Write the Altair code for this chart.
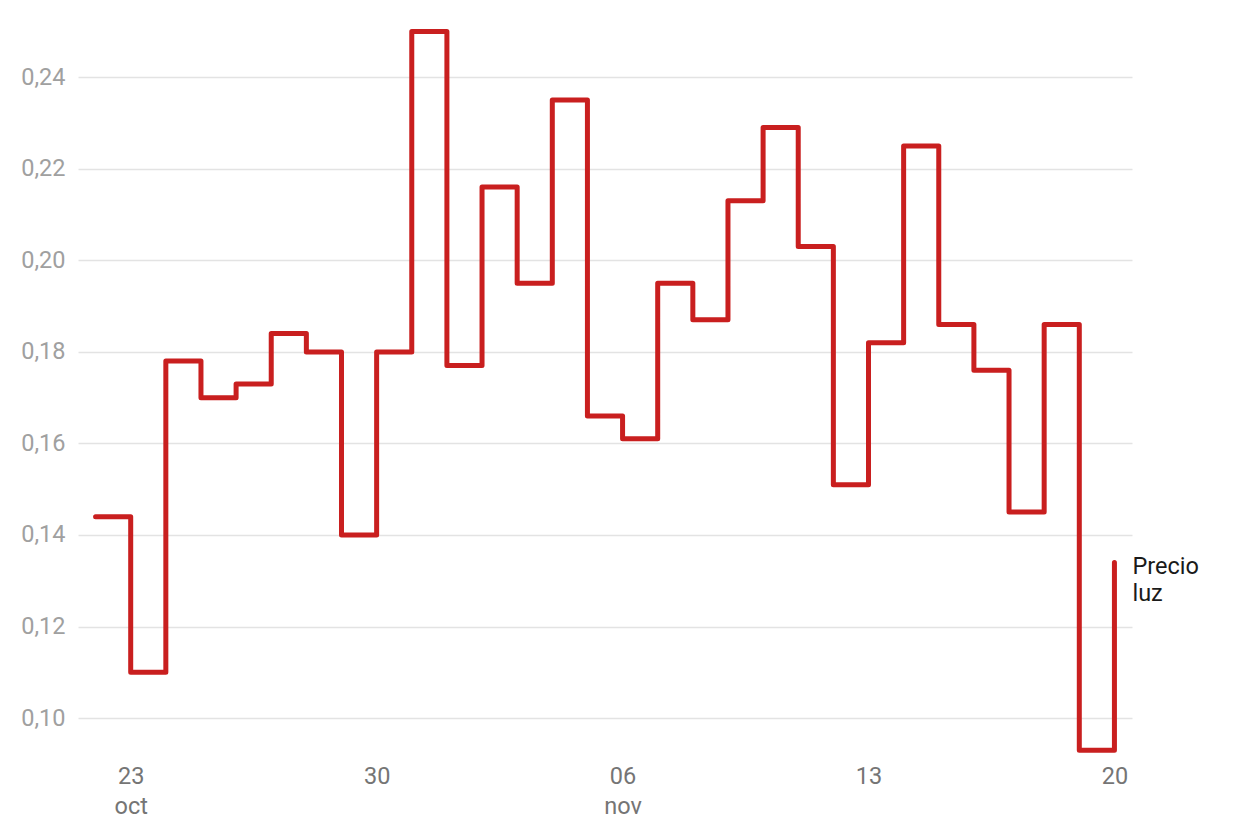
"""Precio de la luz: escalones diarios (oct-nov 2023)."""

import pandas as pd
import altair as alt

# Datos diarios
fechas = pd.date_range("2023-10-22", "2023-11-20", freq="D").strftime("%Y-%m-%d").tolist()
precios = [
    0.144, 0.110, 0.178, 0.170, 0.173, 0.184, 0.180, 0.140, 0.180, 0.250,
    0.177, 0.216, 0.195, 0.235, 0.166, 0.161, 0.195, 0.187, 0.213, 0.229,
    0.203, 0.151, 0.182, 0.225, 0.186, 0.176, 0.145, 0.186, 0.093, 0.134,
]

# Marcas del eje x
tick_fechas = ["2023-10-23", "2023-10-30", "2023-11-06", "2023-11-13", "2023-11-20"]
tick_dias = ["23", "30", "06", "13", "20"]
tick_meses = ["oct", "", "nov", "", ""]
y_ticks = [0.10, 0.12, 0.14, 0.16, 0.18, 0.20, 0.22, 0.24]
serie = "Precio\nluz"

df = pd.DataFrame({"fecha": fechas, "precio": precios})
etiqueta = pd.DataFrame({"fecha": [fechas[-1]], "precio": [precios[-1]], "texto": [serie]})

label_expr = ""
for f, d, m in zip(tick_fechas, tick_dias, tick_meses):
    lbl = f"['{d}', '{m}']" if m else f"'{d}'"
    label_expr += f"utcFormat(datum.value, '%Y-%m-%d') == '{f}' ? {lbl} : "
label_expr += "''"

FONT = "Roboto"
RED = "#c91f1f"
FS = 23.5

x_scale = alt.Scale(
    type="utc",
    domain=[alt.DateTime(year=2023, month=10, date=21, hours=12, utc=True),
            alt.DateTime(year=2023, month=11, date=20, hours=12, utc=True)],
)
x_enc = alt.X(
    "fecha:T", scale=x_scale, title=None,
    axis=alt.Axis(
        values=[alt.DateTime(year=int(f[:4]), month=int(f[5:7]), date=int(f[8:]), utc=True)
                for f in tick_fechas],
        labelExpr=label_expr, domain=False, ticks=False, grid=False,
        labelFont=FONT, labelFontSize=FS, labelColor="#757575",
        labelPadding=7, labelLineHeight=30, labelBaseline="top",
    ),
)
y_enc = alt.Y(
    "precio:Q", scale=alt.Scale(domain=[0.0915, 0.2525], nice=False, zero=False), title=None,
    axis=alt.Axis(
        values=y_ticks, labelExpr="replace(format(datum.value, '.2f'), '.', ',')",
        domain=False, ticks=False, gridColor="#e3e3e3", gridWidth=1.5,
        labelFont=FONT, labelFontSize=FS, labelColor="#a0a0a0", labelPadding=13,
    ),
)

linea = alt.Chart(df).mark_line(
    interpolate="step-after", color=RED, strokeWidth=5,
    strokeCap="round", strokeJoin="round",
).encode(x=x_enc, y=y_enc)

texto = alt.Chart(etiqueta).mark_text(
    align="left", baseline="alphabetic", dx=18, dy=12, lineBreak="\n",
    font=FONT, fontSize=FS, color="#1a1a1a", lineHeight=27,
).encode(x="fecha:T", y="precio:Q", text="texto:N")

chart = (linea + texto).properties(
    width=1054, height=737,
    autosize=alt.AutoSizeParams(type="none"),
    padding={"left": 70, "top": 12, "right": 100, "bottom": 72},
).configure_view(stroke=None)

chart.save("out.html", embed_options={"renderer": "svg", "actions": False})
